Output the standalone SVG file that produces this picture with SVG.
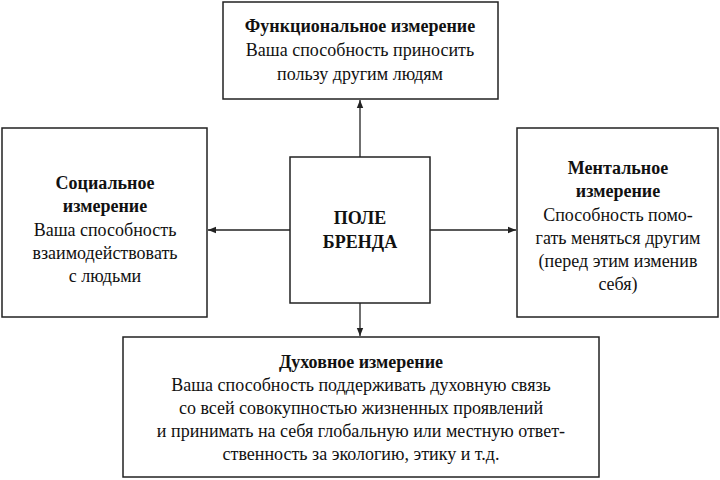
<svg xmlns="http://www.w3.org/2000/svg" width="720" height="480" viewBox="0 0 720 480">
<style>
rect{fill:#fff;stroke:#222;stroke-width:1.5}
text{font-family:"Liberation Serif","DejaVu Serif","Times New Roman",serif;font-size:18px;fill:#111;text-anchor:middle}
.b{font-weight:bold}
line{stroke:#222;stroke-width:1.3;marker-end:url(#a)}
</style>
<defs><marker id="a" viewBox="0 0 10 10" refX="10" refY="5" markerWidth="8" markerHeight="8" orient="auto" markerUnits="userSpaceOnUse"><path d="M0,1L10,5L0,9z" fill="#222"/></marker></defs>
<rect width="720" height="480" style="fill:#fff;stroke:none"/>
<g id="connectors">
<line x1="360" y1="157" x2="360" y2="100"/>
<line x1="290" y1="230" x2="208" y2="230"/>
<line x1="430" y1="230" x2="516" y2="230"/>
<line x1="360" y1="303" x2="360" y2="336"/>
</g>
<g id="top"><rect x="223" y="2" width="275" height="97"/>
<text x="360" y="32" class="b">Функциональное измерение</text>
<text x="360" y="56">Ваша способность приносить</text>
<text x="360" y="80">пользу другим людям</text></g>
<g id="left"><rect x="2" y="128" width="205" height="189"/>
<text x="105" y="189" class="b">Социальное</text>
<text x="105" y="212" class="b">измерение</text>
<text x="105" y="236">Ваша способность</text>
<text x="105" y="259">взаимодействовать</text>
<text x="105" y="282">с людьми</text></g>
<g id="center"><rect x="290" y="157" width="140" height="146"/>
<text x="360" y="224" class="b">ПОЛЕ</text>
<text x="360" y="248" class="b">БРЕНДА</text></g>
<g id="right"><rect x="517" y="128" width="201" height="189"/>
<text x="618" y="174" class="b">Ментальное</text>
<text x="618" y="197" class="b">измерение</text>
<text x="618" y="221">Способность помо-</text>
<text x="618" y="244">гать меняться другим</text>
<text x="618" y="267">(перед этим изменив</text>
<text x="618" y="290">себя)</text></g>
<g id="bottom"><rect x="123" y="337" width="476" height="140"/>
<text x="361" y="368" class="b">Духовное измерение</text>
<text x="361" y="391">Ваша способность поддерживать духовную связь</text>
<text x="361" y="414">со всей совокупностью жизненных проявлений</text>
<text x="361" y="437">и принимать на себя глобальную или местную ответ-</text>
<text x="361" y="460">ственность за экологию, этику и т.д.</text></g>
</svg>
